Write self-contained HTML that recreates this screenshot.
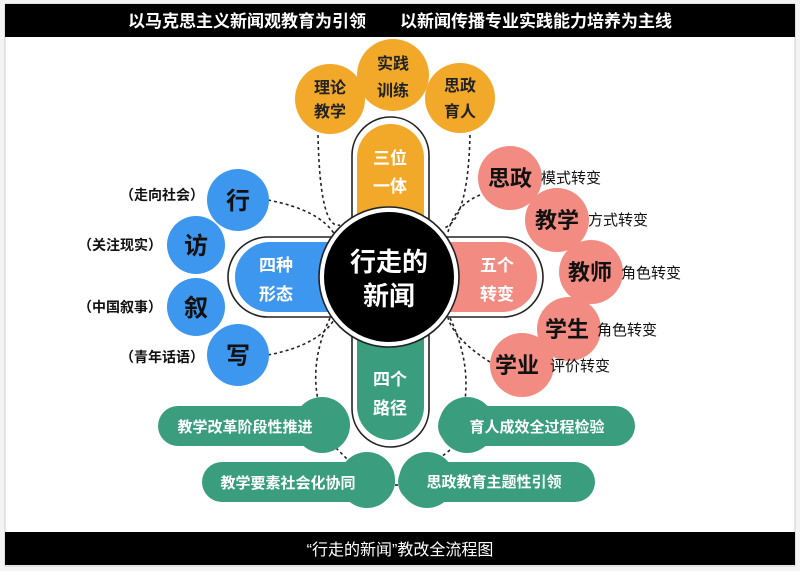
<!DOCTYPE html>
<html><head><meta charset="utf-8"><style>
html,body{margin:0;padding:0;background:#f4f4f4;}
svg{display:block;font-family:"Liberation Sans","Noto Sans CJK SC",sans-serif;}
</style></head><body>
<svg width="800" height="571" viewBox="0 0 800 571" xmlns="http://www.w3.org/2000/svg">
<rect x="5" y="4" width="790" height="562" fill="#fff" stroke="#ccc"/>
<rect x="5" y="4" width="790" height="33" fill="#000"/>
<text x="400" y="27" fill="#fff" font-size="17" font-weight="bold" text-anchor="middle">以马克思主义新闻观教育为引领　　以新闻传播专业实践能力培养为主线</text>
<rect x="5" y="532" width="790" height="33" fill="#000"/>
<text x="400" y="555" fill="#fff" font-size="16" text-anchor="middle">“行走的新闻”教改全流程图</text>

<g fill="none" stroke="#222" stroke-width="1.6" stroke-dasharray="3,3">
<path d="M318 135 Q320 230 340 225"/>
<path d="M470 135 Q468 220 444 228"/>
<path d="M268 200 Q320 210 335 235"/>
<path d="M268 355 Q320 345 335 318"/>
<path d="M480 195 Q455 205 448 232"/>
<path d="M490 362 Q455 340 448 318"/>
<path d="M330 318 Q310 360 318 400"/>
<path d="M450 318 Q470 360 465 400"/>
<path d="M336 448 L348 460"/>
<path d="M450 450 L440 458"/>
<path d="M395 485 L398 485"/>
</g>

<g fill="#F2A92A">
<circle cx="330" cy="99" r="35"/><circle cx="460" cy="98" r="35"/><circle cx="393" cy="75" r="36"/>
</g>
<g fill="#222" font-size="16" font-weight="bold" text-anchor="middle">
<text x="330" y="93">理论</text><text x="330" y="117">教学</text>
<text x="393" y="69">实践</text><text x="393" y="96">训练</text>
<text x="460" y="91">思政</text><text x="460" y="117">育人</text>
</g>

<rect x="352" y="117" width="77" height="330" rx="38.5" fill="#fff" stroke="#222" stroke-width="1.6"/>
<rect x="228" y="237" width="315" height="80" rx="40" fill="#fff" stroke="#222" stroke-width="1.6"/>
<rect x="357" y="124" width="67" height="160" rx="33.5" fill="#F2A92A"/>
<rect x="357" y="270" width="67" height="170" rx="33.5" fill="#3A9E7E"/>
<rect x="235" y="242" width="160" height="70" rx="35" fill="#3E97EE"/>
<rect x="385" y="242" width="152" height="70" rx="35" fill="#F28B82"/>
<g fill="#fff" font-size="17" font-weight="bold" text-anchor="middle">
<text x="390" y="164">三位</text><text x="390" y="192">一体</text>
<text x="390" y="385">四个</text><text x="390" y="414">路径</text>
<text x="276" y="271">四种</text><text x="276" y="300">形态</text>
<text x="497" y="271">五个</text><text x="497" y="300">转变</text>
</g>

<circle cx="389" cy="277" r="70" fill="#fff" stroke="#222" stroke-width="1.6"/>
<circle cx="389" cy="277" r="65" fill="#000"/>
<text x="389" y="271" fill="#fff" font-size="26" font-weight="bold" text-anchor="middle">行走的</text>
<text x="389" y="305" fill="#fff" font-size="26" font-weight="bold" text-anchor="middle">新闻</text>

<g fill="#3E97EE">
<circle cx="238" cy="200" r="31"/><circle cx="196" cy="245" r="29"/><circle cx="196" cy="307" r="29"/><circle cx="238" cy="355" r="31"/>
</g>
<g fill="#111" font-size="24" font-weight="bold" text-anchor="middle">
<text x="238" y="209">行</text><text x="196" y="254">访</text><text x="196" y="316">叙</text><text x="238" y="364">写</text>
</g>
<g fill="#111" font-size="14" font-weight="bold" text-anchor="end">
<text x="204" y="200">（走向社会）</text><text x="162" y="250">（关注现实）</text>
<text x="162" y="312">（中国叙事）</text><text x="204" y="362">（青年话语）</text>
</g>

<g fill="#F28B82">
<circle cx="510" cy="178" r="32"/><circle cx="557" cy="220" r="32"/><circle cx="591" cy="272" r="32"/><circle cx="569" cy="329" r="32"/><circle cx="522" cy="365" r="32"/>
</g>
<g fill="#111" font-size="22" font-weight="bold" text-anchor="middle">
<text x="510" y="186">思政</text><text x="557" y="228">教学</text><text x="590" y="280">教师</text><text x="567" y="337">学生</text><text x="517" y="373">学业</text>
</g>
<g fill="#111" font-size="15">
<text x="541" y="183">模式转变</text><text x="588" y="225">方式转变</text><text x="621" y="278">角色转变</text>
<text x="597" y="335">角色转变</text><text x="550" y="371">评价转变</text>
</g>

<g fill="#3A9E7E">
<rect x="158" y="406" width="187" height="40" rx="20"/><circle cx="322" cy="425" r="28"/>
<rect x="202" y="462" width="193" height="40" rx="20"/><circle cx="367" cy="480" r="28"/>
<rect x="438" y="406" width="197" height="40" rx="20"/><circle cx="467" cy="425" r="28"/>
<rect x="398" y="462" width="197" height="40" rx="20"/><circle cx="427" cy="480" r="28"/>
</g>
<g fill="#fff" font-size="15" font-weight="bold" text-anchor="middle">
<text x="245" y="432">教学改革阶段性推进</text>
<text x="288" y="488">教学要素社会化协同</text>
<text x="537" y="432">育人成效全过程检验</text>
<text x="494" y="487">思政教育主题性引领</text>
</g>
</svg>
</body></html>
